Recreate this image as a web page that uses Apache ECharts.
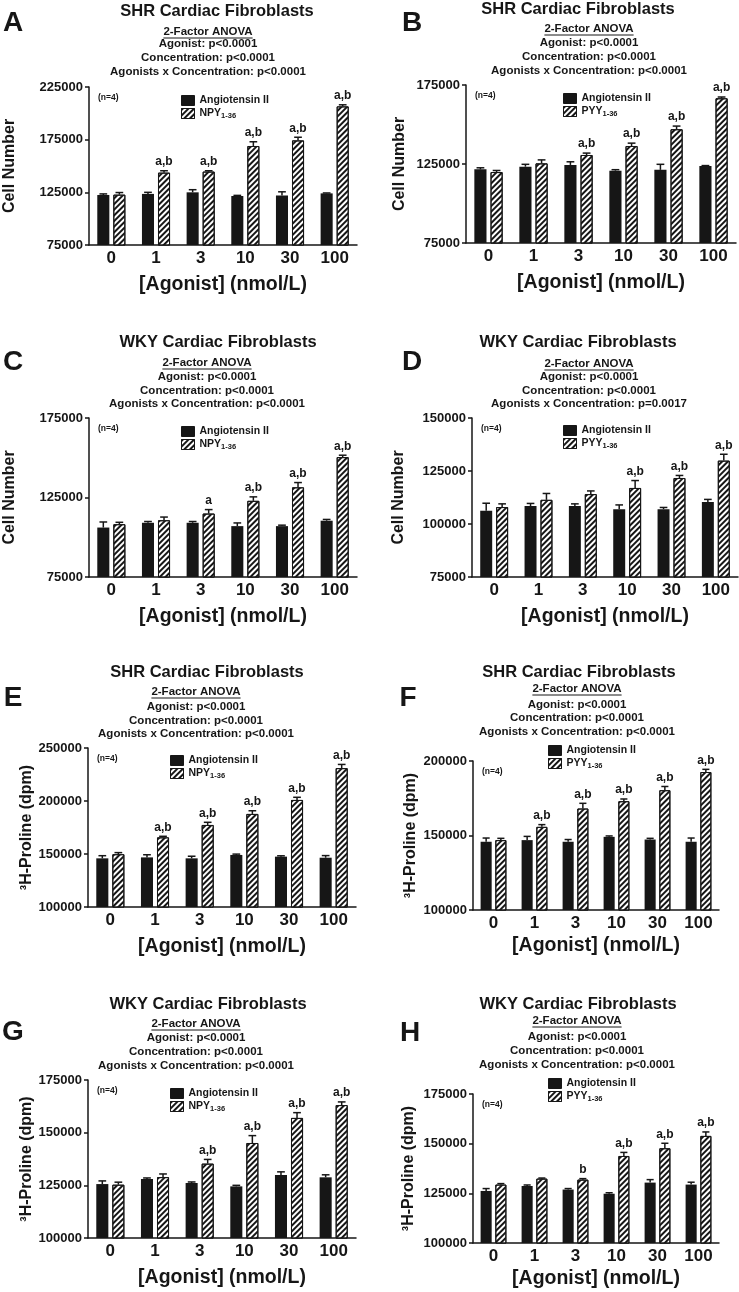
<!DOCTYPE html>
<html lang="en">
<head>
<meta charset="UTF-8">
<title>Cardiac fibroblasts - NPY / PYY vs Angiotensin II</title>
<script src="https://cdn.jsdelivr.net/npm/echarts@6.0.0/dist/echarts.min.js"></script>
<style>html,body{margin:0;background:#fff}</style>
</head>
<body>
<div id="main" style="width:739px;height:1292px"></div>
<script>
// x axis categories
var doses = ['0', '1', '3', '10', '30', '100'];

// A - SHR, cell number, NPY
var angA = [122500, 123500, 125000, 121500, 122000, 124000];
var angAErr = [1000, 1500, 2500, 600, 3500, 400];
var npyA = [122800, 143700, 144700, 169000, 174300, 206600];
var npyAErr = [2000, 1800, 800, 4000, 3000, 1500];
var sigA = ['', 'a,b', 'a,b', 'a,b', 'a,b', 'a,b'];
var ticksA = [75000, 125000, 175000, 225000];

// B - SHR, cell number, PYY
var angB = [121600, 123300, 124400, 120800, 121300, 123700];
var angBErr = [1000, 1500, 2000, 600, 3500, 300];
var pyyB = [119900, 125400, 130700, 136400, 147000, 166600];
var pyyBErr = [1000, 2200, 1200, 1800, 2000, 800];
var sigB = ['', '', 'a,b', 'a,b', 'a,b', 'a,b'];
var ticksB = [75000, 125000, 175000];

// C - WKY, cell number, NPY
var angC = [106100, 109100, 109100, 107000, 107000, 110400];
var angCErr = [3500, 800, 800, 2000, 600, 800];
var npyC = [108200, 110700, 114900, 122900, 131400, 150400];
var npyCErr = [1200, 2000, 2500, 2500, 3000, 1200];
var sigC = ['', '', 'a', 'a,b', 'a,b', 'a,b'];
var ticksC = [75000, 125000, 175000];

// D - WKY, cell number, PYY
var angD = [106300, 108500, 108500, 107000, 107000, 110400];
var angDErr = [3500, 1200, 1000, 2000, 800, 1200];
var pyyD = [108000, 111400, 114100, 117000, 121700, 129900];
var pyyDErr = [1500, 3000, 1500, 3500, 1200, 3000];
var sigD = ['', '', '', 'a,b', 'a,b', 'a,b'];
var ticksD = [75000, 100000, 125000, 150000];

// E - SHR, 3H-proline, NPY
var angE = [145900, 146800, 145900, 149100, 147500, 146500];
var angEErr = [2500, 2500, 2000, 800, 800, 2000];
var npyE = [149800, 165700, 177400, 187800, 201000, 231000];
var npyEErr = [1500, 1000, 2500, 3000, 2500, 3500];
var sigE = ['', 'a,b', 'a,b', 'a,b', 'a,b', 'a,b'];
var ticksE = [100000, 150000, 200000, 250000];

// F - SHR, 3H-proline, PYY
var angF = [145800, 146900, 145800, 149100, 147300, 145800];
var angFErr = [2500, 2500, 1500, 600, 800, 2500];
var pyyF = [146900, 155800, 168100, 173000, 180400, 192600];
var pyyFErr = [1200, 1500, 3500, 1500, 2500, 1800];
var sigF = ['', 'a,b', 'a,b', 'a,b', 'a,b', 'a,b'];
var ticksF = [100000, 150000, 200000];

// G - WKY, 3H-proline, NPY
var angG = [125600, 128000, 126100, 124500, 129900, 128800];
var angGErr = [1500, 500, 500, 500, 1500, 1200];
var npyG = [125300, 128900, 135300, 145100, 157000, 163100];
var npyGErr = [1200, 1500, 2000, 3500, 2500, 1500];
var sigG = ['', '', 'a,b', 'a,b', 'a,b', 'a,b'];
var ticksG = [100000, 125000, 150000, 175000];

// H - WKY, 3H-proline, PYY
var angH = [126200, 128700, 126900, 124800, 130400, 129400];
var angHErr = [1200, 500, 500, 500, 1500, 1200];
var pyyH = [129400, 132400, 131900, 143800, 147700, 153900];
var pyyHErr = [500, 300, 500, 1800, 2500, 2000];
var sigH = ['', '', 'b', 'a,b', 'a,b', 'a,b'];
var ticksH = [100000, 125000, 150000, 175000];

var INK = '#161616';
var FONT = '"Liberation Sans", Arial, sans-serif';
var BAR_FRAC = 0.27;
var GAP_FRAC = 0.33;
var HATCH = {symbol: 'rect', symbolSize: 1, dashArrayX: [1, 0], dashArrayY: [2, 2], rotation: -Math.PI / 4, color: INK};

var CELLS = 'Cell Number';
var PROLINE = '\u00b3H-Proline (dpm)';

var panels = [
    {letter: 'A', strain: 'SHR', ang: angA, angErr: angAErr, pep: npyA, pepErr: npyAErr, pepName: 'NPY1-36', sig: sigA, ticks: ticksA, yName: CELLS, inter: 'p<0.0001',
        grid: [89, 87, 268, 158], yGap: 71, xGap: 30, legend: [176, 90], title: [217, 11], subX: 208, subY: [32, 44, 58, 72], tag: [13, 23]},
    {letter: 'B', strain: 'SHR', ang: angB, angErr: angBErr, pep: pyyB, pepErr: pyyBErr, pepName: 'PYY1-36', sig: sigB, ticks: ticksB, yName: CELLS, inter: 'p<0.0001',
        grid: [466, 85, 270, 158], yGap: 58, xGap: 30, legend: [558, 88], title: [578, 9], subX: 589, subY: [29, 43, 57, 71], tag: [412, 23]},
    {letter: 'C', strain: 'WKY', ang: angC, angErr: angCErr, pep: npyC, pepErr: npyCErr, pepName: 'NPY1-36', sig: sigC, ticks: ticksC, yName: CELLS, inter: 'p<0.0001',
        grid: [89, 418, 268, 159], yGap: 71, xGap: 30, legend: [176, 421], title: [218, 342], subX: 207, subY: [363, 377, 391, 404], tag: [13, 362]},
    {letter: 'D', strain: 'WKY', ang: angD, angErr: angDErr, pep: pyyD, pepErr: pyyDErr, pepName: 'PYY1-36', sig: sigD, ticks: ticksD, yName: CELLS, inter: 'p=0.0017',
        grid: [472, 418, 266, 159], yGap: 65, xGap: 30, legend: [558, 420], title: [578, 342], subX: 589, subY: [364, 377, 391, 404], tag: [412, 362]},
    {letter: 'E', strain: 'SHR', ang: angE, angErr: angEErr, pep: npyE, pepErr: npyEErr, pepName: 'NPY1-36', sig: sigE, ticks: ticksE, yName: PROLINE, inter: 'p<0.0001',
        grid: [88, 748, 268, 159], yGap: 48, xGap: 30, legend: [165, 750], title: [207, 672], subX: 196, subY: [692, 707, 721, 734], tag: [13, 698]},
    {letter: 'F', strain: 'SHR', ang: angF, angErr: angFErr, pep: pyyF, pepErr: pyyFErr, pepName: 'PYY1-36', sig: sigF, ticks: ticksF, yName: PROLINE, inter: 'p<0.0001',
        grid: [473, 761, 246, 149], yGap: 54, xGap: 26, legend: [543, 740], title: [579, 672], subX: 577, subY: [689, 705, 718, 732], tag: [408, 698]},
    {letter: 'G', strain: 'WKY', ang: angG, angErr: angGErr, pep: npyG, pepErr: npyGErr, pepName: 'NPY1-36', sig: sigG, ticks: ticksG, yName: PROLINE, inter: 'p<0.0001',
        grid: [88, 1080, 268, 158], yGap: 48, xGap: 30, legend: [165, 1083], title: [208, 1004], subX: 196, subY: [1024, 1038, 1052, 1066], tag: [13, 1032]},
    {letter: 'H', strain: 'WKY', ang: angH, angErr: angHErr, pep: pyyH, pepErr: pyyHErr, pepName: 'PYY1-36', sig: sigH, ticks: ticksH, yName: PROLINE, inter: 'p<0.0001',
        grid: [473, 1094, 246, 149], yGap: 56, xGap: 26, legend: [543, 1073], title: [578, 1004], subX: 577, subY: [1021, 1037, 1051, 1065], tag: [410, 1033]}
];

function txt(x, y, s, size, weight, align) {
    return {
        type: 'text', x: x, y: y, z: 10,
        style: {
            text: s, fill: INK, font: weight + ' ' + size + 'px ' + FONT,
            textAlign: align || 'center', align: align || 'center',
            textVerticalAlign: 'middle', verticalAlign: 'middle'
        }
    };
}

var measureCtx = document.createElement('canvas').getContext('2d');
function textWidth(s, font) {
    measureCtx.font = font;
    return measureCtx.measureText(s).width;
}

// error bar (up only) plus significance letters
function errorSeries(vals, errs, sig, side, k) {
    return {
        type: 'custom',
        xAxisIndex: k, yAxisIndex: k,
        z: 5,
        silent: true,
        data: vals.map(function (v, i) { return [i, v, errs[i]]; }),
        encode: {x: 0, y: 1},
        renderItem: function (params, api) {
            var i = api.value(0);
            var band = api.size([1, 0])[0];
            var bw = band * BAR_FRAC;
            var off = side * bw * (1 + GAP_FRAC) / 2;
            var base = api.coord([i, api.value(1)]);
            var tip = api.coord([i, api.value(1) + api.value(2)]);
            var x = base[0] + off;
            var cap = bw * 0.32;
            var lineStyle = {stroke: INK, lineWidth: 1.5};
            var kids = [
                {type: 'line', shape: {x1: x, y1: base[1], x2: x, y2: tip[1]}, style: lineStyle},
                {type: 'line', shape: {x1: x - cap, y1: tip[1], x2: x + cap, y2: tip[1]}, style: lineStyle}
            ];
            var s = sig ? sig[params.dataIndex] : '';
            if (s) {
                kids.push({
                    type: 'text', x: x, y: tip[1] - 3,
                    style: {text: s, fill: INK, font: 'bold 12px ' + FONT, textAlign: 'center', align: 'center', textVerticalAlign: 'bottom', verticalAlign: 'bottom'}
                });
            }
            return {type: 'group', children: kids};
        }
    };
}

var option = {
    animation: false,
    backgroundColor: '#fff',
    grid: [], xAxis: [], yAxis: [], legend: [], series: [], graphic: []
};

panels.forEach(function (p, k) {
    var t = p.ticks;
    option.grid.push({left: p.grid[0], top: p.grid[1], width: p.grid[2], height: p.grid[3], outerBoundsMode: 'none', containLabel: false});
    option.xAxis.push({
        type: 'category', gridIndex: k, data: doses,
        axisLine: {lineStyle: {color: INK, width: 1.5}},
        axisTick: {show: false},
        axisLabel: {color: INK, fontSize: 17, fontWeight: 'bold', fontFamily: FONT, margin: 5, interval: 0},
        splitLine: {show: false},
        name: '[Agonist] (nmol/L)', nameLocation: 'middle', nameGap: p.xGap,
        nameTextStyle: {color: INK, fontSize: 19.5, fontFamily: FONT, fontWeight: 'bold'}
    });
    option.yAxis.push({
        type: 'value', gridIndex: k,
        min: t[0], max: t[t.length - 1], interval: t[1] - t[0],
        axisLine: {show: true, lineStyle: {color: INK, width: 1.5}},
        axisTick: {show: true, length: 4, lineStyle: {color: INK, width: 1.5}},
        minorTick: {show: false},
        splitLine: {show: false},
        axisLabel: {
            color: INK, fontSize: 13, fontWeight: 'bold', fontFamily: FONT, margin: 6,
            formatter: function (v) { return String(v); }
        },
        name: p.yName, nameLocation: 'middle', nameGap: p.yGap,
        nameTextStyle: {color: INK, fontSize: 16, fontWeight: 'bold', fontFamily: FONT}
    });
    option.series.push({
        type: 'bar', name: 'Angiotensin II', xAxisIndex: k, yAxisIndex: k,
        data: p.ang, barWidth: (BAR_FRAC * 100) + '%', barGap: (GAP_FRAC * 100) + '%',
        itemStyle: {color: INK}
    });
    option.series.push({
        type: 'bar', name: p.pepName, xAxisIndex: k, yAxisIndex: k,
        data: p.pep, barWidth: (BAR_FRAC * 100) + '%', barGap: (GAP_FRAC * 100) + '%',
        itemStyle: {color: '#fff', borderColor: INK, borderWidth: 1, decal: HATCH}
    });
    option.series.push(errorSeries(p.ang, p.angErr, null, -1, k));
    option.series.push(errorSeries(p.pep, p.pepErr, p.sig, 1, k));

    option.legend.push({
        data: ['Angiotensin II', p.pepName],
        orient: 'vertical', left: p.legend[0], top: p.legend[1],
        itemWidth: 13, itemHeight: 10, itemGap: 2, icon: 'rect',
        selectedMode: false,
        itemStyle: {borderColor: INK, borderWidth: 1},
        textStyle: {
            color: INK, fontSize: 10.5, fontWeight: 'bold', fontFamily: FONT,
            rich: {s: {fontSize: 7.5, fontWeight: 'bold', fontFamily: FONT, color: INK, verticalAlign: 'bottom', padding: [5, 0, 0, 0]}}
        },
        formatter: function (name) {
            return name.indexOf('1-36') > 0 ? name.replace('1-36', '{s|1-36}') : name;
        }
    });

    var g = option.graphic;
    g.push(txt(p.title[0], p.title[1], p.strain + ' Cardiac Fibroblasts', 16.5, 'bold'));
    var anovaFont = 'bold 11.5px ' + FONT;
    var w = textWidth('2-Factor ANOVA', anovaFont);
    g.push(txt(p.subX, p.subY[0], '2-Factor ANOVA', 11.5, 'bold'));
    g.push({type: 'line', z: 10, shape: {x1: p.subX - w / 2, y1: p.subY[0] + 6, x2: p.subX + w / 2, y2: p.subY[0] + 6}, style: {stroke: INK, lineWidth: 1}});
    g.push(txt(p.subX, p.subY[1], 'Agonist: p<0.0001', 11.5, 'bold'));
    g.push(txt(p.subX, p.subY[2], 'Concentration: p<0.0001', 11.5, 'bold'));
    g.push(txt(p.subX, p.subY[3], 'Agonists x Concentration: ' + p.inter, 11.5, 'bold'));
    g.push(txt(p.tag[0], p.tag[1], p.letter, 28, 'bold'));
    g.push(txt(p.grid[0] + 9, p.grid[1] + 11, '(n=4)', 8.5, 'bold', 'left'));
});

var chart = echarts.init(document.getElementById('main'), null, {renderer: 'canvas'});
chart.setOption(option);
</script>
</body>
</html>
